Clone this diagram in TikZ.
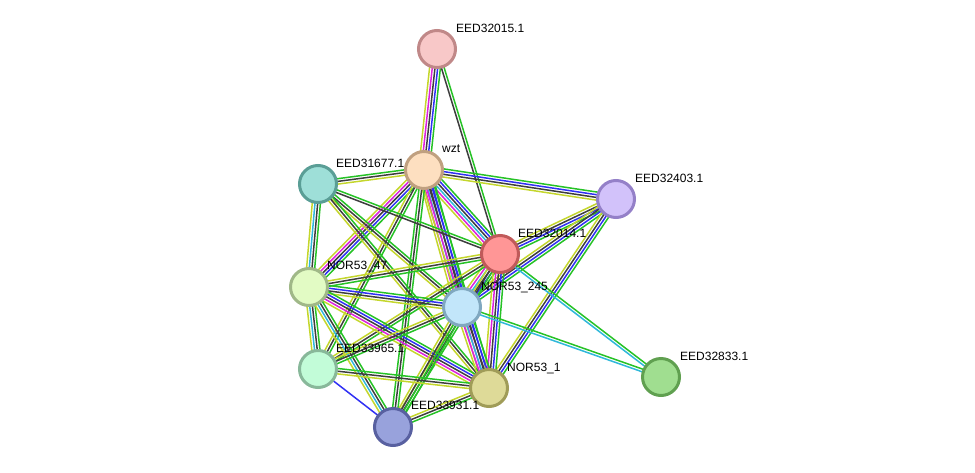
\documentclass[tikz,border=0pt]{standalone}
\usepackage{fontspec}
\setmainfont{Liberation Sans}
\usetikzlibrary{calc,backgrounds}

% evidence channel colours
\definecolor{sy}{HTML}{C4D62C}% text mining
\definecolor{sm}{HTML}{DD22DD}% experiments
\definecolor{sc}{HTML}{30B8DA}% databases
\definecolor{sk}{HTML}{3E3E3E}% co-expression
\definecolor{sb}{HTML}{3030F4}% co-occurrence
\definecolor{sg}{HTML}{26C226}% neighbourhood

\tikzset{
  prot/.style={circle, minimum size=37pt, inner sep=0pt, line width=3pt},
  strand/.style={line width=1.5pt},
  lbl/.style={anchor=west, inner sep=0pt, text height=8.6pt, text depth=0pt,
              font=\fontsize{12}{14}\selectfont},
}

% a bundle of parallel strands between two proteins, one per colour
\newcommand\bundle[3]{%
  \foreach \c [count=\i] in {#3} {\xdef\nstr{\i}}%
  \foreach \c [count=\i] in {#3} {%
    \pgfmathsetmacro\off{(\i-(\nstr+1)/2)*2.7}%
    \draw[strand,\c] ($(#1)!\off pt!90:(#2)$) -- ($(#2)!\off pt!-90:(#1)$);%
  }%
}

\begin{document}
\begin{tikzpicture}[x=1pt,y=-1pt]
\useasboundingbox (0,0) rectangle (975,472);

% proteins
\node[prot, fill={rgb,255:red,248;green,200;blue,200}, draw={rgb,255:red,192;green,136;blue,136}] (A) at (437,49) {};
\node[prot, fill={rgb,255:red,253;green,223;blue,192}, draw={rgb,255:red,192;green,160;blue,128}] (W) at (424,170) {};
\node[prot, fill={rgb,255:red,158;green,223;blue,216}, draw={rgb,255:red,90;green,158;blue,150}] (T) at (318,184) {};
\node[prot, fill={rgb,255:red,210;green,194;blue,250}, draw={rgb,255:red,148;green,128;blue,200}] (P) at (616,199) {};
\node[prot, fill={rgb,255:red,255;green,150;blue,150}, draw={rgb,255:red,192;green,90;blue,90}] (R) at (500,254) {};
\node[prot, fill={rgb,255:red,226;green,251;blue,196}, draw={rgb,255:red,160;green,184;blue,136}] (N47) at (309,287) {};
\node[prot, fill={rgb,255:red,194;green,230;blue,250}, draw={rgb,255:red,128;green,168;blue,192}] (N245) at (462,307) {};
\node[prot, fill={rgb,255:red,194;green,252;blue,216}, draw={rgb,255:red,136;green,184;blue,154}] (M) at (318,369) {};
\node[prot, fill={rgb,255:red,222;green,218;blue,152}, draw={rgb,255:red,160;green,156;blue,88}] (N1) at (489,388) {};
\node[prot, fill={rgb,255:red,152;green,162;blue,220}, draw={rgb,255:red,88;green,96;blue,160}] (B) at (393,427) {};
\node[prot, fill={rgb,255:red,160;green,222;blue,144}, draw={rgb,255:red,96;green,160;blue,80}] (G) at (661,377) {};

% interactions
\begin{pgfonlayer}{background}
\bundle{A}{W}{sy,sm,sk,sb,sg}
\bundle{A}{R}{sk,sg}
\bundle{W}{T}{sg,sk,sy}
\bundle{W}{P}{sy,sk,sb,sg}
\bundle{W}{R}{sy,sm,sc,sk,sb,sg}
\bundle{W}{N47}{sy,sm,sk,sb,sg}
\bundle{W}{N245}{sy,sm,sc,sk,sb,sg}
\bundle{W}{N1}{sy,sm,sk,sb,sg}
\bundle{W}{M}{sy,sk,sg}
\bundle{W}{B}{sg,sk,sg}
\bundle{T}{R}{sk,sg}
\bundle{T}{N47}{sy,sc,sk,sg}
\bundle{T}{N245}{sy,sk,sg}
\bundle{T}{N1}{sy,sk,sg}
\bundle{P}{R}{sy,sk,sb,sg}
\bundle{P}{N245}{sy,sk,sb,sg}
\bundle{P}{N1}{sy,sk,sb,sg}
\bundle{R}{N47}{sy,sk,sg}
\bundle{R}{N245}{sy,sm,sc,sk,sb,sg}
\bundle{R}{N1}{sy,sm,sk,sb,sg}
\bundle{R}{M}{sy,sk,sg}
\bundle{R}{B}{sy,sk,sg}
\bundle{R}{G}{sc,sg}
\bundle{N47}{N245}{sy,sk,sb,sg}
\bundle{N47}{M}{sy,sc,sk,sg}
\bundle{N47}{N1}{sy,sm,sk,sb,sg}
\bundle{N47}{B}{sy,sc,sk,sg}
\bundle{N245}{M}{sy,sk,sg}
\bundle{N245}{N1}{sy,sm,sc,sk,sb,sg}
\bundle{N245}{B}{sy,sk,sg,sg}
\bundle{N245}{G}{sc,sg}
\bundle{M}{N1}{sy,sk,sg}
\bundle{M}{B}{sb}
\bundle{N1}{B}{sy,sk,sg}
\end{pgfonlayer}

% names
\node[lbl] (lA) at (456,28) {EED32015.1};
\node[lbl] (lW) at (442,148) {wzt};
\node[lbl] (lT) at (336,163) {EED31677.1};
\node[lbl] (lP) at (635,178) {EED32403.1};
\node[lbl] (lR) at (518,233) {EED32014.1};
\node[lbl] (lN47) at (327,265) {NOR53\_47};
\node[lbl] (lN245) at (481,286) {NOR53\_245};
\node[lbl] (lM) at (336,348) {EED33965.1};
\node[lbl] (lN1) at (507,367) {NOR53\_1};
\node[lbl] (lB) at (411,405) {EED33931.1};
\node[lbl] (lG) at (680,356) {EED32833.1};
\end{tikzpicture}
\end{document}
